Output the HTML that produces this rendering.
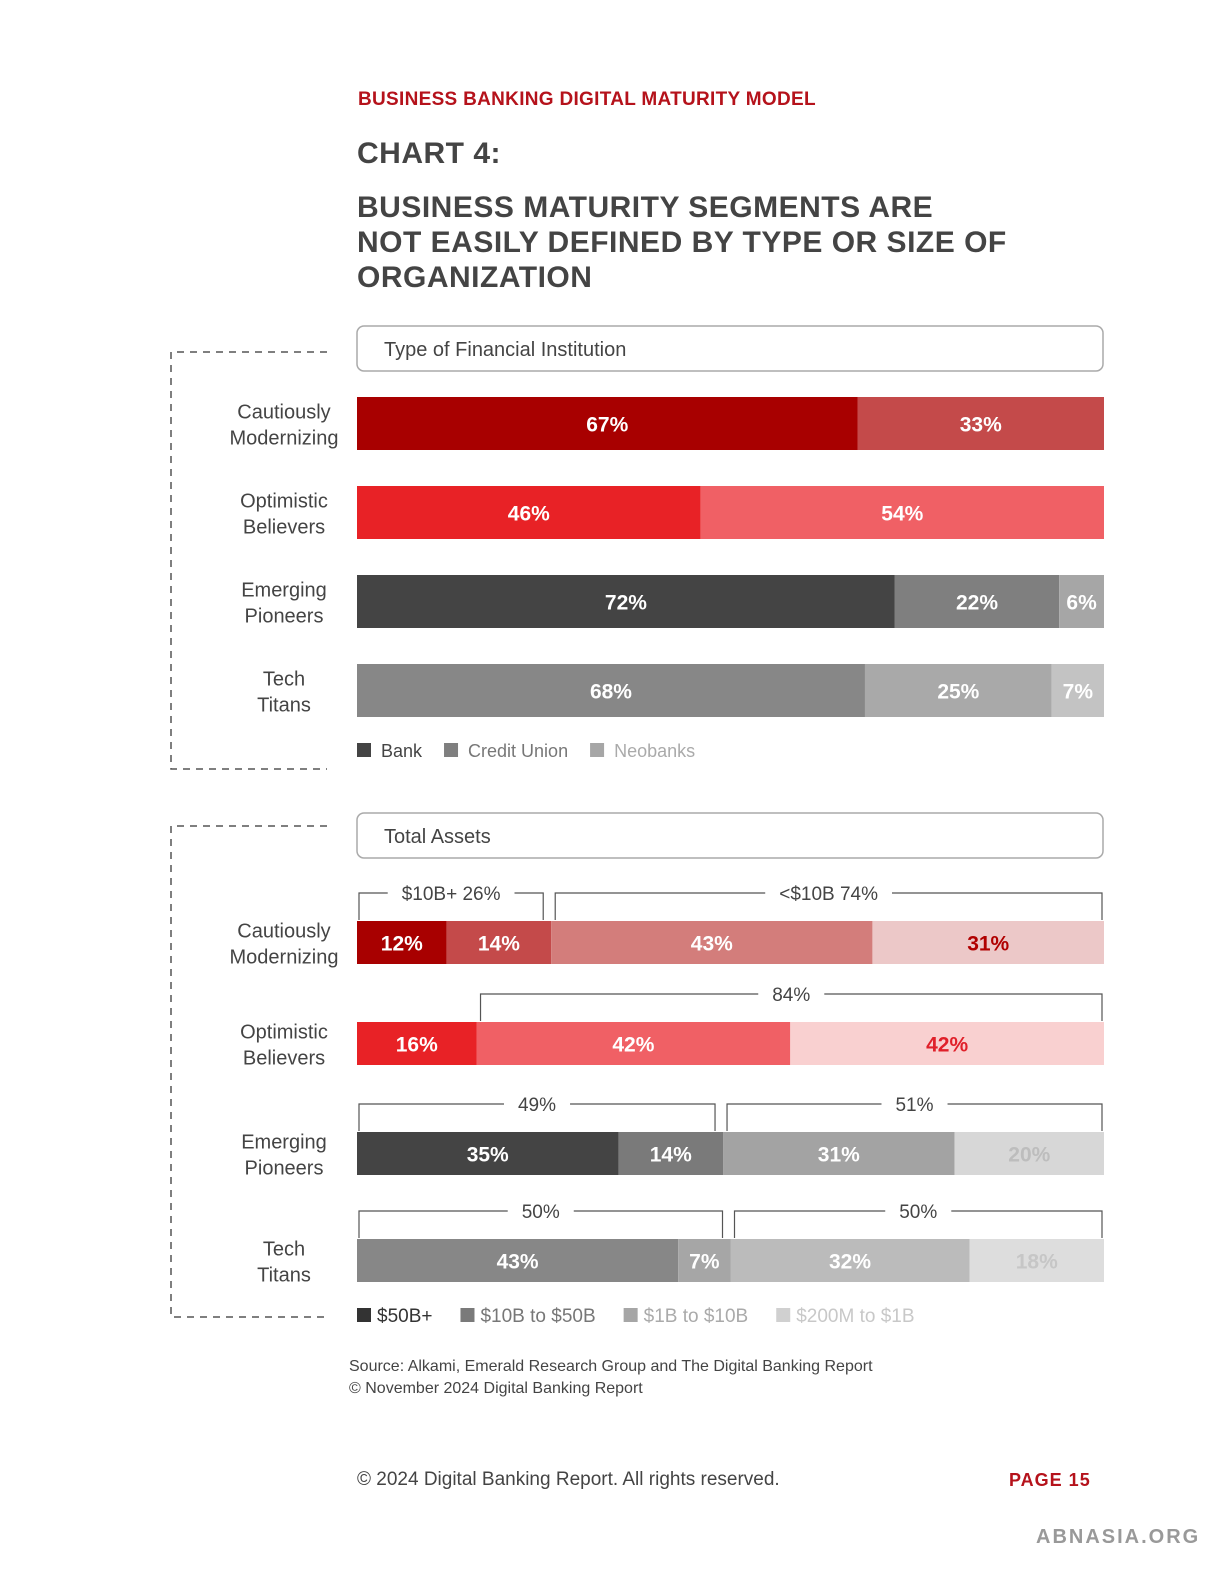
<!DOCTYPE html>
<html><head><meta charset="utf-8"><style>
html,body{margin:0;padding:0;background:#fff;}
body{width:1224px;height:1584px;position:relative;overflow:hidden;font-family:"Liberation Sans",sans-serif;}
.abs{position:absolute;}
</style></head><body>
<div class="abs" style="left:358px;top:89px;font-size:19px;font-weight:bold;color:#b5121b;letter-spacing:0.3px">BUSINESS BANKING DIGITAL MATURITY MODEL</div>
<div class="abs" style="left:357px;top:137px;font-size:30px;font-weight:bold;color:#444;letter-spacing:0.5px">CHART 4:</div>
<div class="abs" style="left:357px;top:190px;font-size:30px;font-weight:bold;color:#444;line-height:35px;letter-spacing:0.5px;width:700px">BUSINESS MATURITY SEGMENTS ARE<br>NOT EASILY DEFINED BY TYPE OR SIZE OF<br>ORGANIZATION</div>
<svg id="chart" class="abs" style="left:0;top:0" width="1224" height="1584"></svg>
<div class="abs" style="left:349px;top:1356px;font-size:16px;color:#444;line-height:22px">Source: Alkami, Emerald Research Group and The Digital Banking Report<br>© November 2024 Digital Banking Report</div>
<div class="abs" style="left:357px;top:1469px;font-size:19px;color:#444">© 2024 Digital Banking Report. All rights reserved.</div>
<div class="abs" style="left:1009px;top:1470px;font-size:18px;font-weight:bold;color:#b5121b;letter-spacing:1px">PAGE 15</div>
<div class="abs" style="left:1036px;top:1526px;font-size:20px;font-weight:bold;color:#999;letter-spacing:2px">ABNASIA.ORG</div>
<script>
const NS='http://www.w3.org/2000/svg';
const svg=document.getElementById('chart');
function mk(t,a,p){const e=document.createElementNS(NS,t);for(const k in a)e.setAttribute(k,a[k]);(p||svg).appendChild(e);return e;}
const X0=357,W=747;
function xs(v){return X0+v/100*W;}
const rowLabels=[['Cautiously','Modernizing'],['Optimistic','Believers'],['Emerging','Pioneers'],['Tech','Titans']];
// Chart A: type of financial institution
const typeSeries=['Bank','Credit Union','Neobanks'];
const typeValues=[[67,33],[46,54],[72,22,6],[68,25,7]];
const typeColors=[['#a80000','#c44a4a'],['#e82226','#f06065'],['#444444','#7f7f7f','#a6a6a6'],['#878787','#a9a9a9','#c3c3c3']];
const typeY=[397,486,575,664];
// Chart B: total assets
const assetSeries=['$50B+','$10B to $50B','$1B to $10B','$200M to $1B'];
const assetValues=[[12,14,43,31],[16,42,42],[35,14,31,20],[43,7,32,18]];
const assetColors=[['#a80000','#c44a4a','#d37d7b','#ecc8c8'],['#e82226','#f06065','#f9d0d0'],['#444444','#7a7a7a','#a3a3a3','#d7d7d7'],['#878787','#a6a6a6','#bbbbbb','#dddddd']];
const assetText=[['#fff','#fff','#fff','#b00000'],['#fff','#fff','#e0202a'],['#fff','#fff','#fff','#bdbdbd'],['#fff','#fff','#fff','#c6c6c6']];
const assetY=[921,1022,1132,1239];
const bracketGroups=[[[0,2,'$10B+  26%'],[2,4,'<$10B  74%']],[[1,3,'84%']],[[0,2,'49%'],[2,4,'51%']],[[0,2,'50%'],[2,4,'50%']]];

function panel(top,bottom,boxY,title,name){
  const d=mk('path',{d:`M327 ${top} H171 V${bottom} H327`,fill:'none',stroke:'#555','stroke-width':1.5,'stroke-dasharray':'7 6'});
  
  const r=mk('rect',{x:357,y:boxY,width:746,height:45,rx:7,fill:'#fff',stroke:'#aaa','stroke-width':1.5});
  
  const t=mk('text',{x:384,y:boxY+30,'font-size':20,fill:'#444'});t.textContent=title;
  
}
function rowLabel(i,cy){
  const t=mk('text',{'text-anchor':'middle','font-size':20,fill:'#444'});
  
  rowLabels[i].forEach((s,j)=>{const ts=mk('tspan',{x:284,y:cy-5+j*26},t);ts.textContent=s;});
}
panel(352,769,326,'Type of Financial Institution','type');
panel(826,1317,813,'Total Assets','assets');

typeValues.forEach((vals,i)=>{
  let acc=0;const y=typeY[i],h=53;
  rowLabel(i,y+h/2);
  vals.forEach((v,j)=>{
    const r=mk('rect',{x:xs(acc),y:y,width:xs(acc+v)-xs(acc),height:h,fill:typeColors[i][j]});
    
    
    const t=mk('text',{x:(xs(acc)+xs(acc+v))/2,y:y+h/2+8,'text-anchor':'middle','font-size':21,'font-weight':'bold',fill:'#fff'});
    t.textContent=v+'%';
    
    acc+=v;
  });
});
const legA=[['#444','#444'],['#7f7f7f','#777'],['#a6a6a6','#aaa']];
let lx=357;
typeSeries.forEach((s,j)=>{
  const g=mk('g',{});
  mk('rect',{x:lx,y:743,width:14,height:14,fill:legA[j][0]},g);
  const t=mk('text',{x:lx+24,y:757,'font-size':18,fill:legA[j][1]},g);t.textContent=s;
  lx+=24+t.getComputedTextLength()+22;
});

assetValues.forEach((vals,i)=>{
  let acc=0;const y=assetY[i],h=43;
  rowLabel(i,y+h/2);
  const cum=[0];vals.forEach(v=>cum.push(cum[cum.length-1]+v));
  vals.forEach((v,j)=>{
    const r=mk('rect',{x:xs(acc),y:y,width:xs(acc+v)-xs(acc),height:h,fill:assetColors[i][j]});
    
    
    const t=mk('text',{x:(xs(acc)+xs(acc+v))/2,y:y+h/2+8,'text-anchor':'middle','font-size':21,'font-weight':'bold',fill:assetText[i][j]});
    t.textContent=v+'%';
    
    acc+=v;
  });
  const n=vals.length;
  bracketGroups[i].forEach((g,k)=>{
    const a=Math.min(g[0],n),b=Math.min(g[1],n);
    const x1=xs(cum[a])+(a>0?4:2),x2=xs(cum[b])-(b<n?8:2);
    const by=y-28;const cx=(x1+x2)/2;
    const t=mk('text',{x:cx,y:by+7,'text-anchor':'middle','font-size':19,fill:'#444'});
    t.textContent=g[2];
    const tw=t.getComputedTextLength()/2+14;
    const p=mk('path',{d:`M${x1} ${y-1} V${by} H${cx-tw} M${cx+tw} ${by} H${x2} V${y-1}`,fill:'none',stroke:'#555','stroke-width':1.2});
    
  });
});
const legB=[['#333','#333'],['#7a7a7a','#777'],['#a6a6a6','#aaa'],['#d0d0d0','#c8c8c8']];
lx=357;
assetSeries.forEach((s,j)=>{
  const g=mk('g',{});
  mk('rect',{x:lx,y:1308,width:14,height:14,fill:legB[j][0]},g);
  const t=mk('text',{x:lx+20,y:1322,'font-size':19,fill:legB[j][1]},g);t.textContent=s;
  lx+=20+t.getComputedTextLength()+28;
});
</script>
</body></html>
